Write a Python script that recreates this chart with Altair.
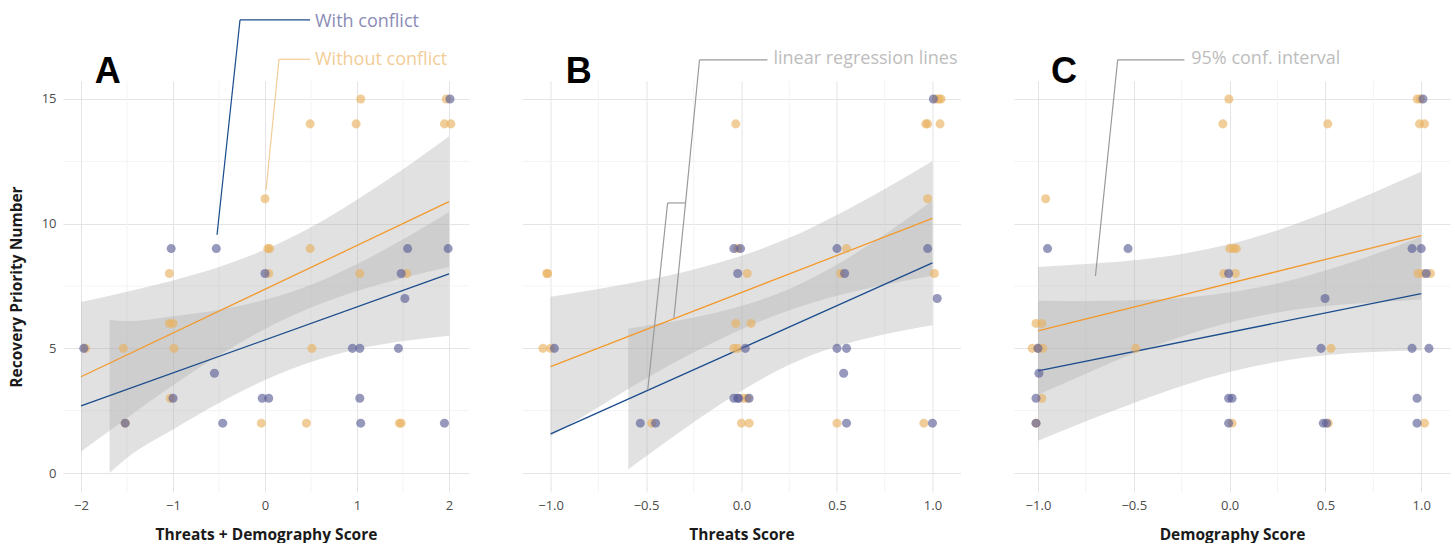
import altair as alt
import pandas as pd

GROUPS = ["With conflict", "Without conflict"]
PT_COLORS = ["#5a5e96", "#e9b260"]
LINE_COLORS = ["#1b4c8c", "#f29a2e"]

YDOM = [-0.76, 15.72]
Y_TICKS = [0, 5, 10, 15]
Y_MINOR = [2.5, 7.5, 12.5]

# ---------------- Panel A : Threats + Demography Score ----------------
a_with_x = [2.01, -1.02, -0.53, 1.55, 1.99, 0.0, 1.48, 1.52, -1.97, 0.95, 1.03, 1.45, -0.55,
            -1.0, -0.03, 0.04, 1.03, -1.52, -0.46, 1.04, 1.95]
a_with_y = [15, 9, 9, 9, 9, 8, 8, 7, 5, 5, 5, 5, 4, 3, 3, 3, 3, 2, 2, 2, 2]
a_without_x = [1.04, 1.97, 0.49, 0.99, 1.95, 2.02, 0.0, 0.03, 0.05, 0.49, -1.04, 0.04, 1.03, 1.54,
               -1.04, -1.0, -1.95, -1.54, -0.99, 0.51, -1.03, -1.52, -0.04, 0.45, 1.46, 1.48]
a_without_y = [15, 15, 14, 14, 14, 14, 11, 9, 9, 9, 8, 8, 8, 8, 6, 6, 5, 5, 5, 5, 3, 2, 2, 2, 2, 2]
a_line_x = [-2, 2]
a_line_with = [2.69, 7.99]
a_line_without = [3.86, 10.88]
a_band_without_x = [-2, -1.5, -1, -0.5, 0, 0.5, 1, 1.5, 2]
a_band_without_lo = [0.86, 2.21, 3.52, 4.72, 5.78, 6.64, 7.30, 7.82, 8.26]
a_band_without_hi = [6.86, 7.27, 7.72, 8.26, 8.96, 9.86, 10.96, 12.18, 13.50]
a_band_with_x = [-1.69, -1.5, -1, -0.5, 0, 0.5, 1, 1.5, 2]
a_band_with_lo = [0.0, 0.61, 1.75, 2.81, 3.73, 4.45, 4.96, 5.29, 5.51]
a_band_with_hi = [6.15, 6.09, 6.29, 6.55, 6.95, 7.55, 8.38, 9.37, 10.47]

# ---------------- Panel B : Threats Score ----------------
b_with_x = [1.005, -0.04, -0.005, 0.5, 0.975, -0.02, 0.54, 1.025, -0.98, 0.02, 0.5, 0.55, 0.535,
            -0.04, -0.02, -0.015, 0.04, -0.53, -0.45, 0.55, 1.0]
b_with_y = [15, 9, 9, 9, 9, 8, 8, 7, 5, 5, 5, 5, 4, 3, 3, 3, 3, 2, 2, 2, 2]
b_without_x = [1.02, 1.035, 1.045, -0.03, 0.965, 0.975, 1.04, 0.975, -0.02, 0.55, -1.02, -1.015,
               0.03, 0.52, 1.01, -0.03, 0.05, -1.04, -1.0, -0.04, -0.02, 0.01, 0.03, -0.47, 0.0,
               0.04, 0.5, 0.955]
b_without_y = [15, 15, 15, 14, 14, 14, 14, 11, 9, 9, 8, 8, 8, 8, 8, 6, 6, 5, 5, 5, 5, 3, 3, 2, 2,
               2, 2, 2]
b_line_x = [-1, 1]
b_line_with = [1.57, 8.43]
b_line_without = [4.27, 10.21]
b_band_without_x = [-1, -0.75, -0.5, -0.25, 0, 0.25, 0.5, 0.75, 1]
b_band_without_lo = [1.47, 2.64, 3.79, 4.84, 5.77, 6.53, 7.11, 7.55, 7.91]
b_band_without_hi = [7.07, 7.38, 7.73, 8.16, 8.71, 9.43, 10.35, 11.39, 12.51]
b_band_with_x = [-0.593, -0.5, -0.25, 0, 0.25, 0.5, 0.75, 1]
b_band_with_lo = [0.14, 0.67, 2.04, 3.30, 4.34, 5.08, 5.57, 5.93]
b_band_with_hi = [5.80, 5.91, 6.24, 6.70, 7.38, 8.36, 9.57, 10.93]

# ---------------- Panel C : Demography Score ----------------
c_with_x = [1.009, -0.95, -0.53, 0.952, 1.0, -0.005, 1.026, 0.498, -1.0, 0.477, 0.952, 1.04,
            -0.995, -1.01, -0.005, 0.013, 0.978, -1.01, -0.005, 0.489, 0.506, 0.978]
c_with_y = [15, 9, 9, 9, 9, 8, 8, 7, 5, 5, 5, 5, 4, 3, 3, 3, 3, 2, 2, 2, 2, 2]
c_without_x = [-0.004, 0.979, 0.995, -0.035, 0.512, 0.991, 1.017, -0.96, 0.001, 0.022, 0.035,
               -0.03, 0.03, 0.983, 1.009, 1.048, -1.01, -0.98, -1.03, -1.0, -0.975, -0.49, 0.529,
               -0.98, -1.01, 0.013, 0.515, 1.017]
c_without_y = [15, 15, 15, 14, 14, 14, 14, 11, 9, 9, 9, 8, 8, 8, 8, 8, 6, 6, 5, 5, 5, 5, 5, 3, 2,
               2, 2, 2]
c_line_x = [-1, 1]
c_line_with = [4.10, 7.19]
c_line_without = [5.70, 9.52]
c_band_x = [-1, -0.75, -0.5, -0.25, 0, 0.25, 0.5, 0.75, 1]
c_band_without_lo = [3.14, 3.98, 4.79, 5.48, 6.04, 6.44, 6.70, 6.84, 6.96]
c_band_without_hi = [8.26, 8.38, 8.53, 8.78, 9.18, 9.74, 10.44, 11.24, 12.08]
c_band_with_lo = [1.29, 2.08, 2.81, 3.49, 4.05, 4.46, 4.72, 4.85, 4.91]
c_band_with_hi = [6.91, 6.90, 6.93, 7.03, 7.25, 7.60, 8.12, 8.75, 9.47]


def points_df(wx, wy, ox, oy):
    return pd.DataFrame({
        "x": list(ox) + list(wx),
        "y": list(oy) + list(wy),
        "grp": [GROUPS[1]] * len(ox) + [GROUPS[0]] * len(wx),
        "order": [0] * len(ox) + [1] * len(wx),
    })


def lines_df(lx, lw, lo):
    return pd.DataFrame({
        "x": list(lx) * 2,
        "y": list(lw) + list(lo),
        "grp": [GROUPS[0]] * len(lx) + [GROUPS[1]] * len(lx),
    })


def bands_df(wx, wlo, whi, ox, olo, ohi):
    return pd.DataFrame({
        "x": list(wx) + list(ox),
        "y": list(wlo) + list(olo),
        "hi": list(whi) + list(ohi),
        "grp": [GROUPS[0]] * len(wx) + [GROUPS[1]] * len(ox),
    })


def panel(xdom, xticks, xfmt, xminor, xtitle, pts, lns, bnds, segs, texts, letter, show_y, width):
    xs = alt.Scale(domain=xdom, nice=False, zero=False)
    ys = alt.Scale(domain=YDOM, nice=False, zero=False)
    if show_y:
        yaxis = alt.Axis(values=Y_TICKS, title="Recovery Priority Number", labelPadding=7,
                         titlePadding=17, grid=True)
    else:
        yaxis = alt.Axis(values=Y_TICKS, labels=False, title=None, grid=True)
    xaxis = alt.Axis(values=xticks, format=xfmt, title=xtitle, labelPadding=7, titlePadding=15,
                     grid=True)

    def X():
        return alt.X("x:Q", scale=xs, axis=xaxis)

    def Y():
        return alt.Y("y:Q", scale=ys, axis=yaxis)

    vminor = alt.Chart(pd.DataFrame({"x": xminor})).mark_rule(color="#f3f3f3", strokeWidth=1).encode(
        x=X())
    hminor = alt.Chart(pd.DataFrame({"y": Y_MINOR})).mark_rule(color="#f3f3f3", strokeWidth=1).encode(
        y=Y())

    band = alt.Chart(bnds).mark_area(interpolate="monotone", color="#b0b0b0", opacity=0.38).encode(
        x=X(), y=Y(), y2="hi:Q", detail="grp:N",
    )
    line = alt.Chart(lns).mark_line(strokeWidth=1.3).encode(
        x=X(), y=Y(),
        stroke=alt.Stroke("grp:N", scale=alt.Scale(domain=GROUPS, range=LINE_COLORS), legend=None),
        detail="grp:N",
    )
    pt = alt.Chart(pts).mark_circle(size=82, opacity=0.64).encode(
        x=X(), y=Y(),
        fill=alt.Fill("grp:N", scale=alt.Scale(domain=GROUPS, range=PT_COLORS), legend=None),
        order="order:Q",
    )
    layers = [vminor, hminor, band, line, pt]

    for seg_df, col in segs:
        layers.append(alt.Chart(seg_df).mark_rule(color=col, strokeWidth=1.2, clip=False).encode(
            x=X(), x2="x2:Q", y=Y(), y2="y2:Q"))
    for t_df, col in texts:
        layers.append(alt.Chart(t_df).mark_text(align="left", baseline="alphabetic", font="Open Sans",
                                                fontSize=18, color=col, clip=False).encode(
            x=X(), y=Y(), text="label:N"))
    layers.append(alt.Chart(letter).mark_text(align="left", baseline="alphabetic", font="Liberation Sans",
                                              fontSize=36, fontWeight="bold", color="#000000").encode(
        x=X(), y=Y(), text="label:N"))

    return alt.layer(*layers).properties(width=width, height=411)


def seg(x, y, x2, y2):
    return pd.DataFrame({"x": x, "y": y, "x2": x2, "y2": y2})


# annotation geometry (data units)
A_segs = [
    (seg([-0.272, -0.272], [18.17, 18.17], [0.489, -0.522], [18.17, 9.55]), "#1b4c8c"),
    (seg([0.152, 0.152], [16.59, 16.59], [0.489, 0.011], [16.59, 11.35]), "#f3cd98"),
]
A_texts = [
    (pd.DataFrame({"x": [0.543], "y": [17.90], "label": ["With conflict"]}), "#8a8db6"),
    (pd.DataFrame({"x": [0.543], "y": [16.37], "label": ["Without conflict"]}), "#f2cd98"),
]
B_segs = [
    (seg([-0.22, -0.22, -0.387, -0.387, -0.293], [16.57, 16.57, 10.83, 10.83, 10.83],
         [0.136, -0.293, -0.293, -0.491, -0.354], [16.57, 10.83, 10.83, 3.33, 6.22]), "#9a9a9a"),
]
B_texts = [(pd.DataFrame({"x": [0.1675], "y": [16.39], "label": ["linear regression lines"]}), "#bdbdbd")]
C_segs = [
    (seg([-0.584, -0.584], [16.57, 16.57], [-0.236, -0.70], [16.57, 7.90]), "#9a9a9a"),
]
C_texts = [(pd.DataFrame({"x": [-0.2], "y": [16.39], "label": ["95% conf. interval"]}), "#bdbdbd")]

pA = panel([-2.196, 2.217], [-2, -1, 0, 1, 2], "d", [-1.5, -0.5, 0.5, 1.5],
           "Threats + Demography Score",
           points_df(a_with_x, a_with_y, a_without_x, a_without_y),
           lines_df(a_line_x, a_line_with, a_line_without),
           bands_df(a_band_with_x, a_band_with_lo, a_band_with_hi,
                    a_band_without_x, a_band_without_lo, a_band_without_hi),
           A_segs, A_texts,
           pd.DataFrame({"x": [-1.85], "y": [15.64], "label": ["A"]}), True, 406)

pB = panel([-1.147, 1.147], [-1, -0.5, 0, 0.5, 1], ".1f", [-0.75, -0.25, 0.25, 0.75],
           "Threats Score",
           points_df(b_with_x, b_with_y, b_without_x, b_without_y),
           lines_df(b_line_x, b_line_with, b_line_without),
           bands_df(b_band_with_x, b_band_with_lo, b_band_with_hi,
                    b_band_without_x, b_band_without_lo, b_band_without_hi),
           B_segs, B_texts,
           pd.DataFrame({"x": [-0.921], "y": [15.64], "label": ["B"]}), False, 438)

pC = panel([-1.125, 1.15], [-1, -0.5, 0, 0.5, 1], ".1f", [-0.75, -0.25, 0.25, 0.75],
           "Demography Score",
           points_df(c_with_x, c_with_y, c_without_x, c_without_y),
           lines_df(c_line_x, c_line_with, c_line_without),
           bands_df(c_band_x, c_band_with_lo, c_band_with_hi,
                    c_band_x, c_band_without_lo, c_band_without_hi),
           C_segs, C_texts,
           pd.DataFrame({"x": [-0.932], "y": [15.64], "label": ["C"]}), False, 436)

chart = alt.hconcat(pA, pB, pC, spacing=51.5).properties(
    padding={"left": 9, "top": 12, "right": 0, "bottom": 0},
    background="white",
).configure_view(strokeWidth=0).configure_axis(
    domain=False, ticks=False, gridColor="#e4e4e4", gridWidth=1,
    labelFont="Open Sans", labelFontSize=13, labelColor="#4d4d4d",
    titleFont="Open Sans", titleFontSize=15.5, titleFontWeight="bold", titleColor="#1a1a1a",
)

chart.save("out.html", embed_options={"renderer": "svg", "actions": False})
